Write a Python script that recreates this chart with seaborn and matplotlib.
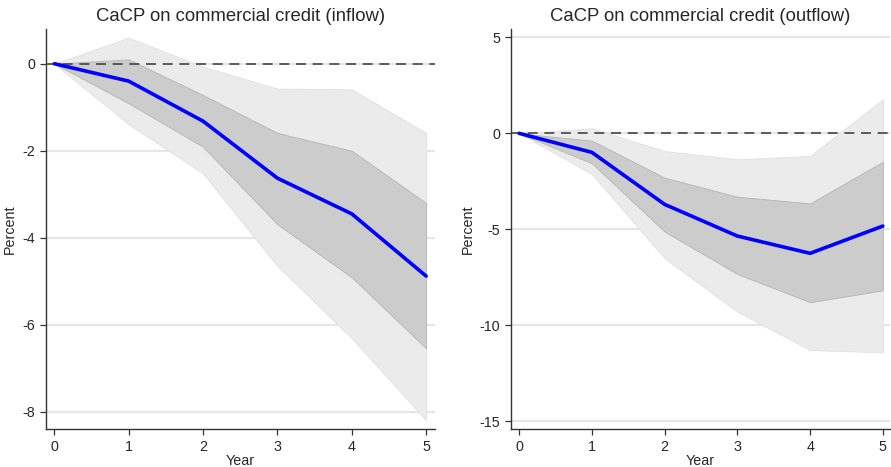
import matplotlib
matplotlib.use("Agg")
import matplotlib.pyplot as plt
import seaborn as sns
import pandas as pd

years = [0, 1, 2, 3, 4, 5]

# Inflow: point estimate and confidence bands
inflow_irf = [0.0, -0.40, -1.32, -2.63, -3.45, -4.88]
inflow_hi68 = [0.0, 0.10, -0.72, -1.59, -2.00, -3.20]
inflow_lo68 = [0.0, -0.91, -1.91, -3.69, -4.91, -6.54]
inflow_hi90 = [0.0, 0.60, -0.07, -0.57, -0.59, -1.59]
inflow_lo90 = [0.0, -1.39, -2.52, -4.65, -6.31, -8.19]

# Outflow: point estimate and confidence bands
outflow_irf = [0.0, -0.99, -3.70, -5.35, -6.25, -4.83]
outflow_hi68 = [0.0, -0.38, -2.31, -3.30, -3.65, -1.48]
outflow_lo68 = [0.0, -1.56, -5.12, -7.33, -8.80, -8.18]
outflow_hi90 = [0.0, 0.26, -0.92, -1.35, -1.18, 1.77]
outflow_lo90 = [0.0, -2.12, -6.51, -9.29, -11.29, -11.41]

titles = ["CaCP on commercial credit (inflow)", "CaCP on commercial credit (outflow)"]
yticks = [[0, -2, -4, -6, -8], [5, 0, -5, -10, -15]]
ylims = [(-8.40, 0.79), (-15.42, 5.42)]

sns.set_theme(style="ticks")
plt.rcParams["font.family"] = ["Liberation Sans", "DejaVu Sans"]
plt.rcParams["axes.unicode_minus"] = False

fig = plt.figure(figsize=(8.91, 4.67), dpi=100)
ax_in = fig.add_axes([0.0513, 0.0807, 0.4370, 0.8565])
ax_out = fig.add_axes([0.5732, 0.0807, 0.4258, 0.8565])

panels = [
    (ax_in, inflow_irf, inflow_lo68, inflow_hi68, inflow_lo90, inflow_hi90),
    (ax_out, outflow_irf, outflow_lo68, outflow_hi68, outflow_lo90, outflow_hi90),
]
ylabel_x = [-0.074, -0.094]

for i, (ax, irf, lo68, hi68, lo90, hi90) in enumerate(panels):
    for t in yticks[i]:
        ax.axhline(t, color="#e6e6e6", lw=1.6, zorder=0)
    ax.fill_between(years, lo90, hi90, color="#ebebeb", lw=0.6,
                    edgecolor="#e0e0e0", zorder=1)
    ax.fill_between(years, lo68, hi68, color="#cccccc", lw=0.6,
                    edgecolor="#b5b5b5", zorder=2)
    ax.axhline(0, color="#444444", lw=1.2, ls=(0, (6, 4)), zorder=3)
    df = pd.DataFrame({"Year": years, "Percent": irf})
    sns.lineplot(data=df, x="Year", y="Percent", ax=ax, color="#0000ff",
                 lw=2.6, zorder=4)

    ax.set_xlim(-0.116, 5.12 if i == 0 else 5.10)
    ax.set_ylim(*ylims[i])
    ax.set_xticks(years)
    ax.set_yticks(yticks[i])
    ax.set_title(titles[i], fontsize=13.3, pad=6)
    ax.set_xlabel("Year", fontsize=10.3, labelpad=0)
    ax.set_ylabel("Percent", fontsize=10.3)
    ax.yaxis.set_label_coords(ylabel_x[i], 0.5)
    ax.tick_params(axis="both", labelsize=10.3, length=4, width=0.9,
                   color="#333333", direction="out")
    for side in ("top", "right"):
        ax.spines[side].set_visible(False)
    for side in ("left", "bottom"):
        ax.spines[side].set_color("#333333")
        ax.spines[side].set_linewidth(1.0)

fig.savefig("out.png", dpi=100)
